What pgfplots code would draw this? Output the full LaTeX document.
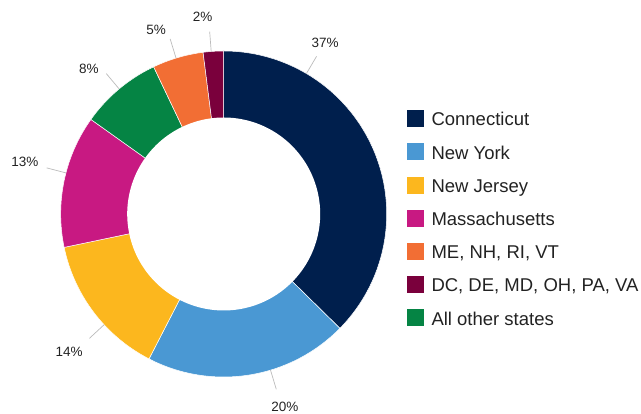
\documentclass[border=0pt]{standalone}
\usepackage{pgfplots}
\usepackage{pgfplotstable}
\pgfplotsset{compat=1.18}
\usepackage{fontspec}
\setmainfont{Liberation Sans}
\definecolor{cCT}{HTML}{001F4D}
\definecolor{cNY}{HTML}{4A98D3}
\definecolor{cNJ}{HTML}{FCB71E}
\definecolor{cMA}{HTML}{C81982}
\definecolor{cOT}{HTML}{058444}
\definecolor{cME}{HTML}{F26E34}
\definecolor{cDC}{HTML}{7A003C}
\definecolor{txt}{HTML}{222222}
\definecolor{lead}{HTML}{BBBBBB}
\tikzset{pctlabel/.style={font=\fontsize{13.5}{16}\selectfont, text=txt, inner sep=0pt, anchor=center}}
% clockwise order from 12 o'clock
% value, colour, leader angle, label angle, label radius
\pgfplotstableread{
value color la ta tr
37 cCT 30.5 30.7 198.5
20 cNY 163.3 162.4 202
14 cNJ 227.2 228.3 206.9
13 cMA 284.6 284.7 205.5
8 cOT 320.1 317.2 198.4
5 cME 343.0 339.8 196
2 cDC 355.6 353.9 197.8
}\data
\def\cx{223.7}
\def\cy{200}
\def\Ro{163}
\def\Ri{96.5}
\begin{document}
\begin{tikzpicture}
\begin{axis}[
  scale only axis, width=641pt, height=414pt,
  xmin=0, xmax=641, ymin=0, ymax=414,
  hide axis, clip=false,
  legend style={at={(axis cs:407,304)}, anchor=north west, draw=none, fill=none,
    inner sep=0pt, outer sep=0pt,
    font=\fontsize{18.5}{21}\selectfont, text=txt,
    nodes={inner sep=0pt}, row sep=15.9pt, column sep=7.5pt},
  legend cell align=left,
  legend image code/.code={\fill[#1, draw=none] (0pt,-7pt) rectangle (17pt,10pt);},
]
\path (axis cs:0,0) rectangle (axis cs:641,414);
\pgfplotstablegetrowsof{\data}
\pgfmathtruncatemacro\N{\pgfplotsretval-1}
\def\total{0}
\pgfplotsforeachungrouped \i in {0,...,\N}{%
  \pgfplotstablegetelem{\i}{value}\of\data
  \pgfmathsetmacro\total{\total+\pgfplotsretval}%
}
\def\cum{0}
\pgfplotsforeachungrouped \i in {0,...,\N}{%
  \pgfplotstablegetelem{\i}{value}\of\data \let\v\pgfplotsretval
  \pgfplotstablegetelem{\i}{color}\of\data \let\c\pgfplotsretval
  \pgfplotstablegetelem{\i}{la}\of\data \let\la\pgfplotsretval
  \pgfplotstablegetelem{\i}{ta}\of\data \let\ta\pgfplotsretval
  \pgfplotstablegetelem{\i}{tr}\of\data \let\tr\pgfplotsretval
  \pgfmathsetmacro\a{\cum/\total*360}%
  \pgfmathsetmacro\cum{\cum+\v}%
  \pgfmathsetmacro\b{\cum/\total*360}%
  \pgfmathsetmacro\lxa{\cx+\Ro*sin(\la)}%
  \pgfmathsetmacro\lya{\cy+\Ro*cos(\la)}%
  \pgfmathsetmacro\lxb{\cx+(\Ro+20)*sin(\la)}%
  \pgfmathsetmacro\lyb{\cy+(\Ro+20)*cos(\la)}%
  \pgfmathsetmacro\tx{\cx+\tr*sin(\ta)}%
  \pgfmathsetmacro\ty{\cy+\tr*cos(\ta)}%
  \pgfmathtruncatemacro\vv{\v}%
  \edef\temp{%
    \noexpand\addplot[fill=\c, draw=white, line width=0.5pt, domain=\a:\b, samples=100, forget plot]
      ({\cx+\Ro*sin(x)},{\cy+\Ro*cos(x)}) -- (axis cs:\cx,\cy) -- cycle;
    \noexpand\addplot[lead, line width=0.7pt, forget plot] coordinates {(\lxa,\lya) (\lxb,\lyb)};
    \noexpand\node[pctlabel] at (axis cs:\tx,\ty) {\vv\noexpand\%};
  }%
  \temp
}
\addplot[fill=white, draw=none, domain=0:360, samples=180, forget plot]
  ({\cx+\Ri*sin(x)},{\cy+\Ri*cos(x)}) -- cycle;
\addlegendimage{fill=cCT}\addlegendentry{Connecticut}
\addlegendimage{fill=cNY}\addlegendentry{New York}
\addlegendimage{fill=cNJ}\addlegendentry{New Jersey}
\addlegendimage{fill=cMA}\addlegendentry{Massachusetts}
\addlegendimage{fill=cME}\addlegendentry{ME, NH, RI, VT}
\addlegendimage{fill=cDC}\addlegendentry{DC, DE, MD, OH, PA, VA}
\addlegendimage{fill=cOT}\addlegendentry{All other states}
\end{axis}
\end{tikzpicture}
\end{document}
